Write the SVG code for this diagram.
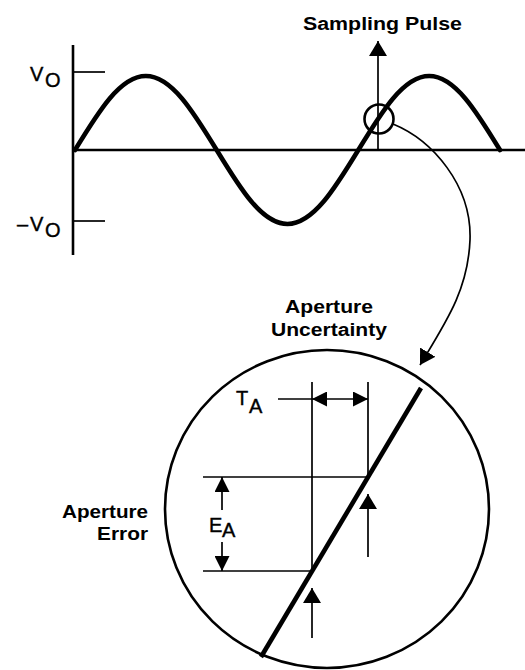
<svg xmlns="http://www.w3.org/2000/svg" width="525" height="670" viewBox="0 0 525 670">
<style>
.thin{stroke:#000;stroke-width:1.7;fill:none}
.med{stroke:#000;stroke-width:2.6;fill:none}
.thick{stroke:#000;stroke-width:4.6;fill:none;stroke-linecap:round;stroke-linejoin:round}
.lbl{font-family:"Liberation Sans",Arial,sans-serif;font-weight:bold;font-size:18px;fill:#000}
.sym{font-family:"Liberation Sans",Arial,sans-serif;font-size:20px;fill:#000;stroke:#000;stroke-width:0.4}
</style>
<defs>
<marker id="ah" markerUnits="userSpaceOnUse" markerWidth="15" markerHeight="18" refX="15" refY="9" orient="auto-start-reverse" viewBox="0 0 15 18">
<path d="M0,0 L15,9 L0,18 z" fill="#000"/>
</marker>
<marker id="ahs" markerUnits="userSpaceOnUse" markerWidth="15" markerHeight="15" refX="15" refY="7.5" orient="auto-start-reverse" viewBox="0 0 15 15">
<path d="M0,0 L15,7.5 L0,15 z" fill="#000"/>
</marker>
</defs>

<g id="axes">
<line class="med" x1="73" y1="45" x2="73" y2="255"/>
<line class="med" x1="73" y1="150" x2="525" y2="150"/>
<line class="thin" x1="73" y1="72" x2="105" y2="72"/>
<line class="thin" x1="73" y1="221" x2="105" y2="221"/>
</g>

<g id="sine">
<path class="thick" d="M75,150 C98.68,111.14 120.29,76 145.83,76 C171.37,76 192.99,111.14 216.67,150 C240.35,188.86 261.96,224 287.5,224 C313.04,224 334.65,188.86 358.33,150 C382.01,111.14 403.62,76 429.17,76 C454.71,76 476.32,111.14 500,150"/>
</g>

<g id="vo-label">
<text class="sym" x="30" y="81">V<tspan x="45" y="87">O</tspan></text>
</g>
<g id="neg-vo-label">
<text class="sym" x="17" y="231">–<tspan x="30">V</tspan><tspan x="45" y="237">O</tspan></text>
</g>

<g id="sampling-pulse">
<text class="lbl" x="303" y="30" textLength="159" lengthAdjust="spacingAndGlyphs">Sampling Pulse</text>
</g>

<g id="zoom-circle">
<circle class="med" cx="379" cy="119" r="14.5"/>
</g>

<g id="magnified">
<ellipse class="med" cx="327" cy="509" rx="162" ry="159"/>
<line class="thick" x1="421" y1="388" x2="261" y2="657" style="stroke-linecap:butt"/>
<line class="thin" x1="312" y1="382" x2="312" y2="572"/>
<line class="thin" x1="368" y1="382" x2="368" y2="477"/>
<line class="thin" x1="203" y1="477" x2="368" y2="477"/>
<line class="thin" x1="203" y1="571" x2="312" y2="571"/>
</g>

<g id="aperture-uncertainty">
<text class="lbl" x="285" y="313" textLength="88" lengthAdjust="spacingAndGlyphs">Aperture</text>
<text class="lbl" x="271" y="336" textLength="116" lengthAdjust="spacingAndGlyphs">Uncertainty</text>
</g>

<g id="aperture-error">
<text class="lbl" x="62" y="518" textLength="86" lengthAdjust="spacingAndGlyphs">Aperture</text>
<text class="lbl" x="97" y="540" textLength="51" lengthAdjust="spacingAndGlyphs">Error</text>
</g>

<g id="ta-label">
<text class="sym" x="236" y="405">T<tspan x="249" y="413">A</tspan></text>
</g>
<g id="ea-label">
<text class="sym" x="209" y="532">E<tspan x="222" y="537">A</tspan></text>
</g>

<g id="connectors">
<line class="thin" x1="378" y1="150" x2="378" y2="41" marker-end="url(#ah)"/>
<path class="thin" d="M393,124 C432,140 472,185 470,240 C468,290 446,322 420,365" marker-end="url(#ah)"/>
<line class="thin" x1="278" y1="399" x2="312" y2="399"/>
<line class="thin" x1="312" y1="399" x2="368" y2="399" marker-start="url(#ahs)" marker-end="url(#ahs)"/>
<line class="thin" x1="222" y1="510" x2="222" y2="477" marker-end="url(#ahs)"/>
<line class="thin" x1="222" y1="542" x2="222" y2="571" marker-end="url(#ahs)"/>
<line class="thin" x1="368" y1="557" x2="368" y2="494" marker-end="url(#ah)"/>
<line class="thin" x1="312" y1="638" x2="312" y2="588" marker-end="url(#ah)"/>
</g>
</svg>
